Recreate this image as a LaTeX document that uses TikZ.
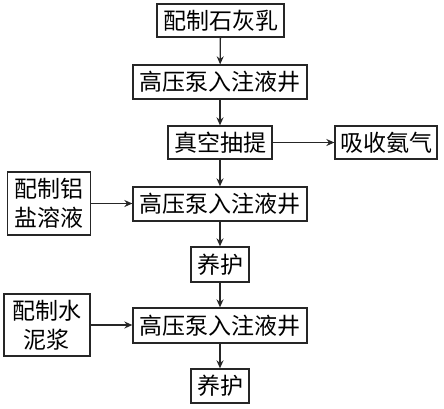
\documentclass[tikz,border=0pt]{standalone}
\usepackage{fontspec}
\setmainfont{Noto Sans CJK SC}
\usetikzlibrary{arrows.meta}
\begin{document}
\begin{tikzpicture}[x=1pt,y=-1pt,
  box/.style={draw=black!85,line width=1.3pt,inner sep=0pt,align=center,font=\fontsize{23}{29}\selectfont},
  conn/.style={draw=black!85,line width=1.3pt,-{Stealth[length=8pt,width=7pt]}}]
\useasboundingbox (0,0) rectangle (444,408);
\node[box,minimum width=127pt,minimum height=33pt] (b1) at (220.5,20.5) {配制石灰乳};
\node[box,minimum width=174pt,minimum height=34pt] (b2) at (220,82) {高压泵入注液井};
\node[box,minimum width=104pt,minimum height=33pt] (b3) at (220,142.5) {真空抽提};
\node[box,minimum width=102pt,minimum height=33pt] (am) at (386,142.5) {吸收氨气};
\node[box,minimum width=174pt,minimum height=34pt] (b4) at (220,204) {高压泵入注液井};
\node[box,minimum width=83pt,minimum height=63pt] (al) at (49,203.5) {配制铝\\盐溶液};
\node[box,minimum width=58pt,minimum height=35pt] (c1) at (220,264.5) {养护};
\node[box,minimum width=174pt,minimum height=35pt] (b5) at (220,325.5) {高压泵入注液井};
\node[box,minimum width=86pt,minimum height=62pt] (ce) at (47,325) {配制水\\泥浆};
\node[box,minimum width=58pt,minimum height=34pt] (c2) at (220,386) {养护};
\draw[conn] (b1) -- (b2);
\draw[conn] (b2) -- (b3);
\draw[conn] (b3) -- (am);
\draw[conn] (b3) -- (b4);
\draw[conn] (al) -- (al -| b4.west);
\draw[conn] (b4) -- (c1);
\draw[conn] (c1) -- (b5);
\draw[conn] (ce) -- (ce -| b5.west);
\draw[conn] (b5) -- (c2);
\end{tikzpicture}
\end{document}
